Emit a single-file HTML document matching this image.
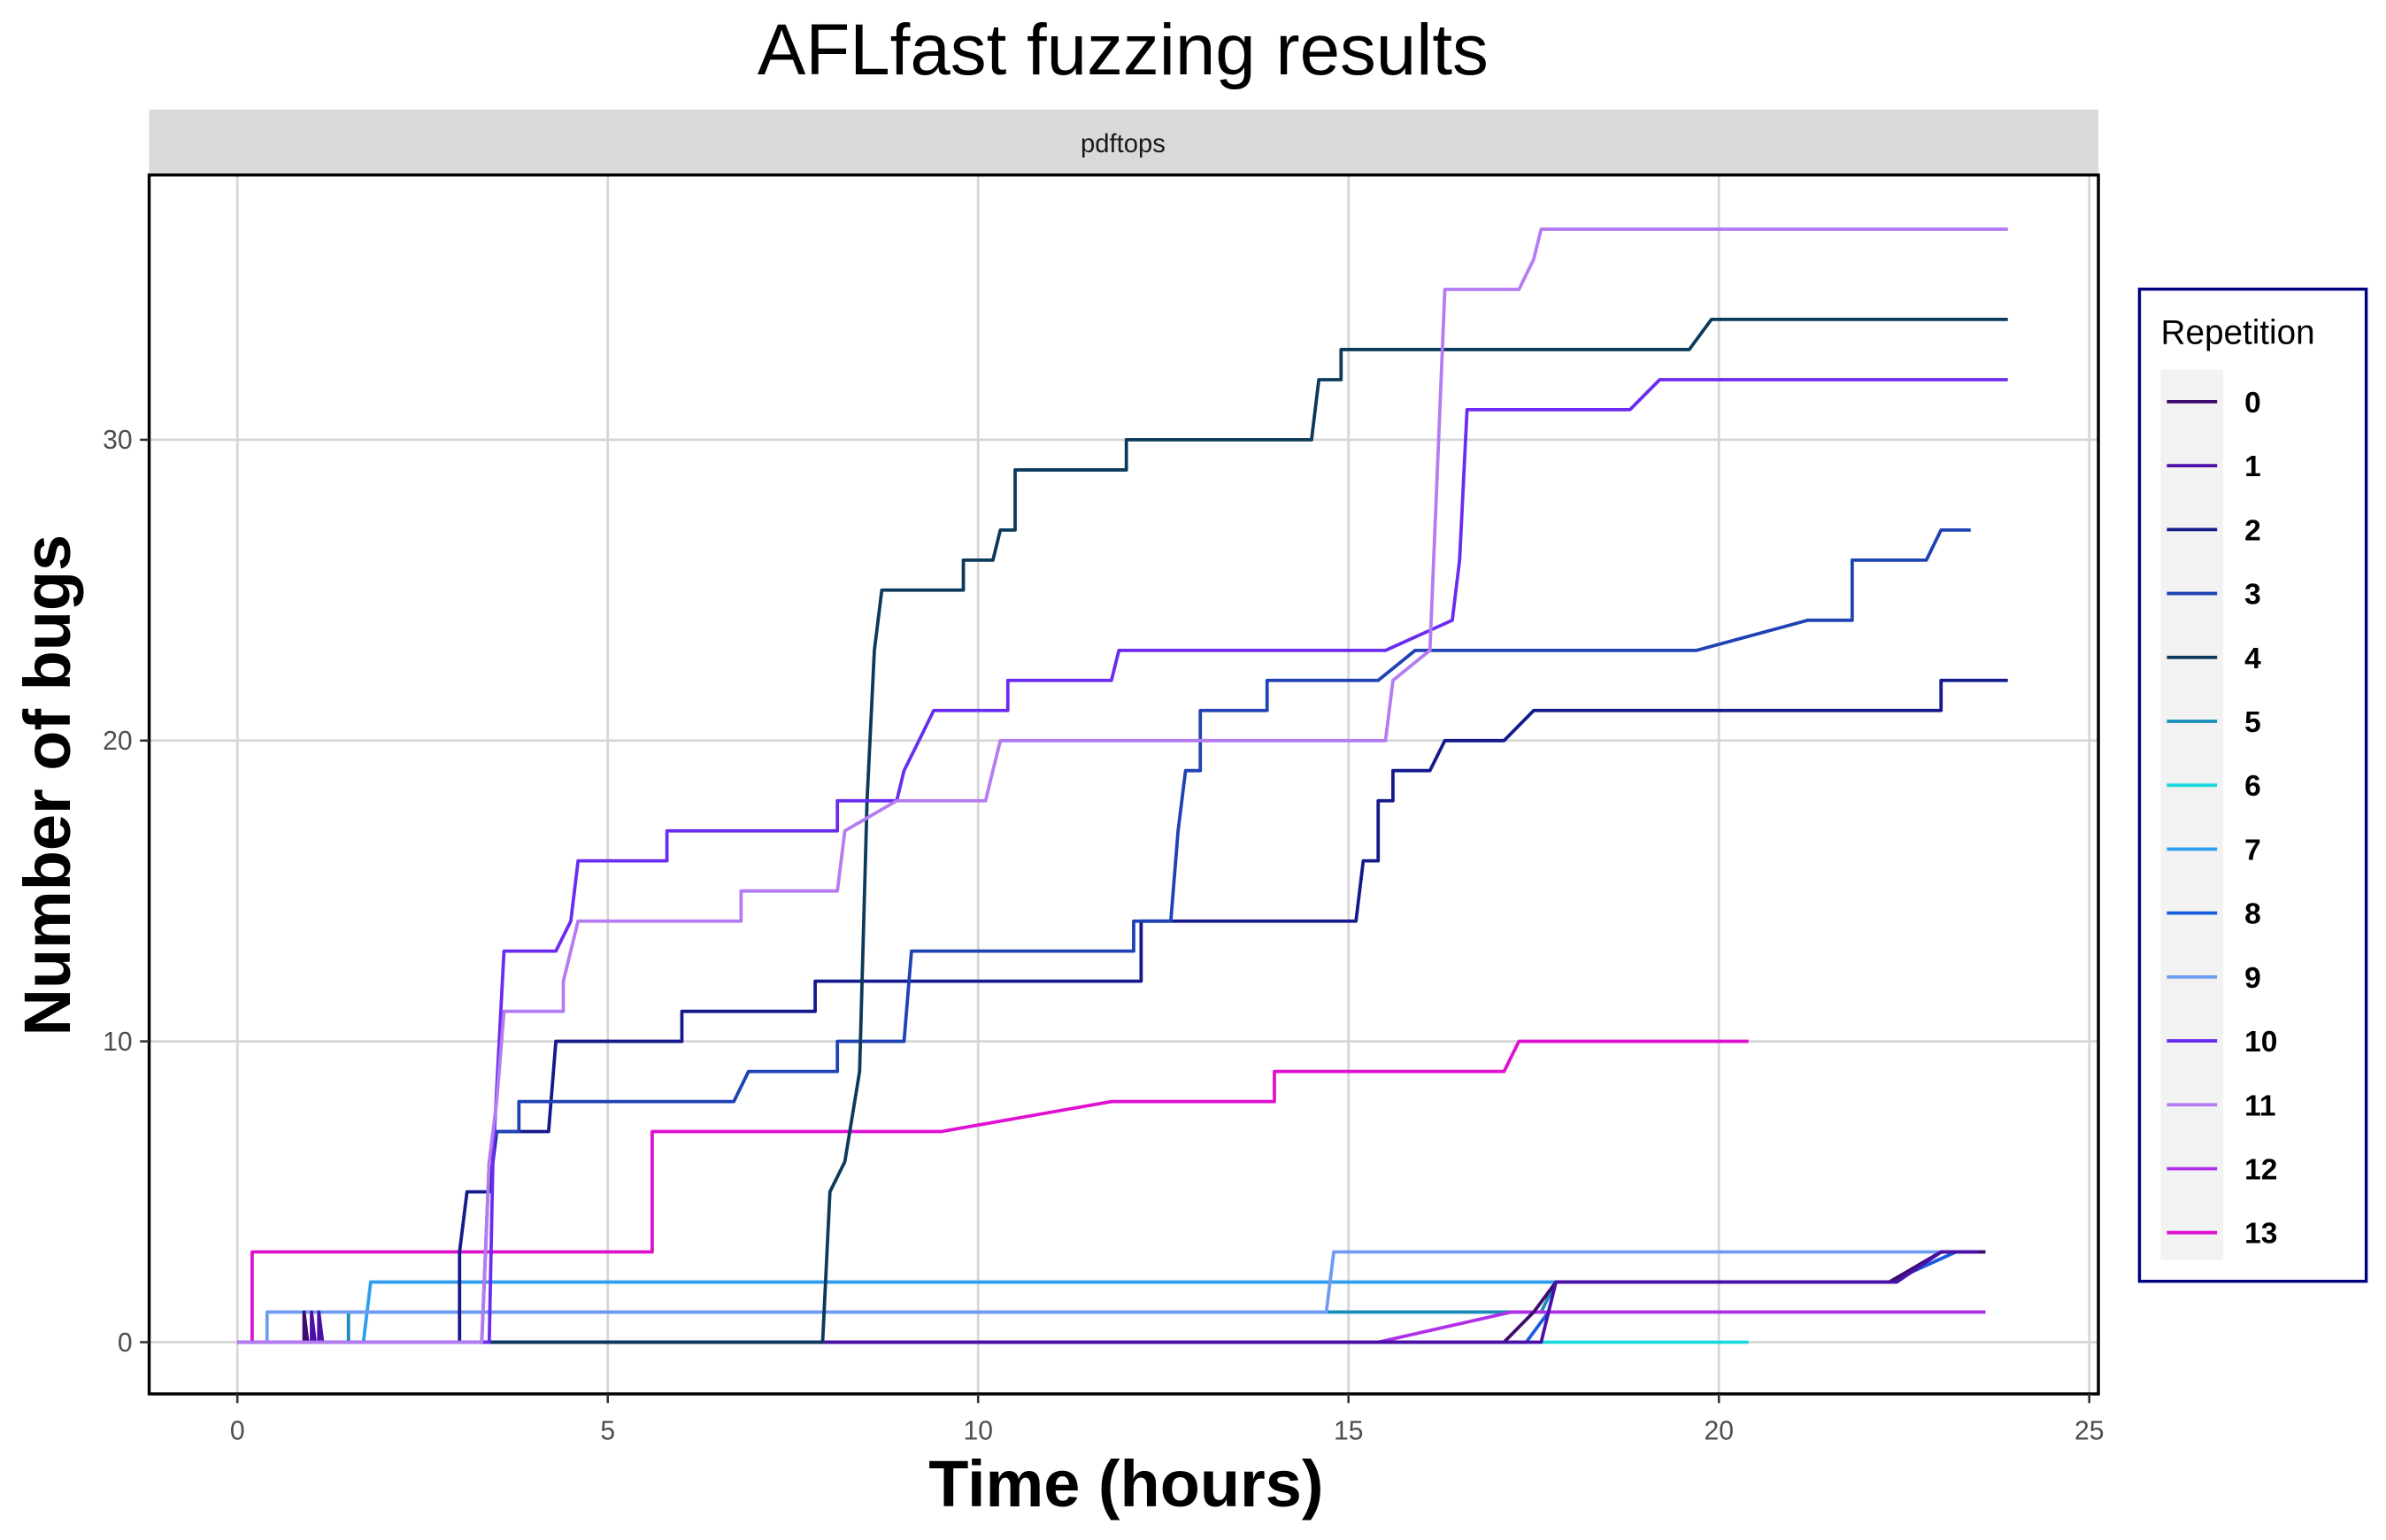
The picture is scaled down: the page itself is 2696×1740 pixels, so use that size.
<!DOCTYPE html>
<html><head><meta charset="utf-8"><style>
html,body{margin:0;padding:0;background:#fff;}
svg{display:block;font-family:"Liberation Sans",sans-serif;}
</style></head><body>
<svg id="chart" width="2696" height="1740" viewBox="0 0 1568 1012" xmlns="http://www.w3.org/2000/svg">
<rect x="0" y="0" width="1568" height="1012" fill="#fff"/>
<text x="738" y="49" font-size="47.5" text-anchor="middle" fill="#000">AFLfast fuzzing results</text>
<rect x="98" y="72" width="1281" height="43" fill="#d9d9d9"/>
<text x="738" y="100" font-size="17" text-anchor="middle" fill="#1a1a1a">pdftops</text>
<g id="grid"></g>
<g id="series"></g>
<rect x="98" y="115" width="1281" height="801" fill="none" stroke="#000" stroke-width="2"/>
<g id="axes"></g>
<text x="740" y="990" font-size="43" font-weight="bold" text-anchor="middle">Time (hours)</text>
<text transform="translate(46,516) rotate(-90)" font-size="43" font-weight="bold" text-anchor="middle">Number of bugs</text>
<g id="legend"></g>
</svg>
<script>
const xTicks=[0,5,10,15,20,25];
const yTicks=[0,10,20,30];
const seriesNames=["0","1","2","3","4","5","6","7","8","9","10","11","12","13"];
const seriesColors=["#3d0a6e","#4a10a8","#141a8c","#1f42b4","#0c3a5c","#1a8cb8","#1ad8dc","#2e9ff0","#1a5ce0","#6f9bf0","#6a2cf0","#b47cf0","#b030e8","#e010d0"];
const s0=[[0,0],[0.9,0],[0.9,1],[0.95,0],[17.1,0],[17.5,1],[17.8,2],[22.3,2],[23,3],[23.6,3]];
const s1=[[0,0],[1.0,0],[1.0,1],[1.05,0],[1.1,0],[1.1,1],[1.15,0],[17.6,0],[17.8,2],[22.4,2],[23,3],[23.5,3]];
const s2=[[0,0],[3.0,0],[3.0,3],[3.1,5],[3.4,5],[3.5,7],[4.2,7],[4.3,10],[6.0,10],[6.0,11],[7.8,11],[7.8,12],[12.2,12],[12.2,14],[15.1,14],[15.2,16],[15.4,16],[15.4,18],[15.6,18],[15.6,19],[16.1,19],[16.3,20],[17.1,20],[17.5,21],[23.0,21],[23.0,22],[23.9,22]];
const s3=[[0,0],[3.3,0],[3.4,6],[3.5,7],[3.8,7],[3.8,8],[6.7,8],[6.9,9],[8.1,9],[8.1,10],[9.0,10],[9.1,13],[12.1,13],[12.1,14],[12.6,14],[12.7,17],[12.8,19],[13.0,19],[13.0,21],[13.9,21],[13.9,22],[15.4,22],[15.9,23],[19.7,23],[21.2,24],[21.8,24],[21.8,26],[22.8,26],[23.0,27],[23.4,27]];
const s4=[[0,0],[7.9,0],[8.0,5],[8.2,6],[8.4,9],[8.5,18],[8.6,23],[8.7,25],[9.8,25],[9.8,26],[10.2,26],[10.3,27],[10.5,27],[10.5,29],[12.0,29],[12.0,30],[14.5,30],[14.6,32],[14.9,32],[14.9,33],[19.6,33],[19.9,34],[23.9,34]];
const s5=[[0,0],[1.5,0],[1.5,1],[17.6,1],[17.8,2],[22.4,2],[23,3],[23.6,3]];
const s6=[[0,0],[20.4,0]];
const s7=[[0,0],[1.7,0],[1.8,2],[22.3,2],[23,3],[23.6,3]];
const s8=[[0,0],[17.4,0],[17.7,1],[17.8,2],[22.3,2],[23.2,3],[23.6,3]];
const s9=[[0,0],[0.4,0],[0.4,1],[14.7,1],[14.8,3],[23.6,3]];
const s10=[[0,0],[3.4,0],[3.45,6],[3.6,13],[4.3,13],[4.5,14],[4.6,16],[5.8,16],[5.8,17],[8.1,17],[8.1,18],[8.9,18],[9.0,19],[9.2,20],[9.4,21],[10.4,21],[10.4,22],[11.8,22],[11.9,23],[15.5,23],[16.4,24],[16.5,26],[16.6,31],[18.8,31],[19.2,32],[23.9,32]];
const s11=[[0,0],[3.3,0],[3.4,6],[3.5,8],[3.6,11],[4.4,11],[4.4,12],[4.6,14],[6.8,14],[6.8,15],[8.1,15],[8.2,17],[8.9,18],[10.1,18],[10.2,19],[10.3,20],[15.5,20],[15.6,22],[16.1,23],[16.3,35],[17.3,35],[17.5,36],[17.6,37],[23.9,37]];
const s12=[[0,0],[15.4,0],[17.2,1],[23.6,1]];
const s13=[[0,0],[0.2,0],[0.2,3],[5.6,3],[5.6,7],[9.5,7],[11.8,8],[14.0,8],[14.0,9],[17.1,9],[17.3,10],[20.4,10]];
const seriesData=[s0,s1,s2,s3,s4,s5,s6,s7,s8,s9,s10,s11,s12,s13];
const drawOrder=[6,5,8,7,9,12,0,1,13,2,3,4,10,11];

const NS="http://www.w3.org/2000/svg";
const X0=156,X25=1373,Y0=882,Y30=289;
function xs(v){return X0+(X25-X0)*v/25;}
function ys(v){return Y0+(Y30-Y0)*v/30;}
function mk(tag,attrs,parent){const e=document.createElementNS(NS,tag);for(const k in attrs)e.setAttribute(k,attrs[k]);parent.appendChild(e);return e;}
const grid=document.getElementById('grid'),axes=document.getElementById('axes'),ser=document.getElementById('series'),leg=document.getElementById('legend');
xTicks.forEach(t=>{
  const gl=mk('line',{x1:xs(t),x2:xs(t),y1:115,y2:916,stroke:'#d6d6d6','stroke-width':1.6},grid);
  
  
  const tk=mk('line',{x1:xs(t),x2:xs(t),y1:916,y2:922,stroke:'#333','stroke-width':1.5},axes);
  
  
  const tl=mk('text',{x:xs(t),y:946,'font-size':17.5,'text-anchor':'middle',fill:'#4d4d4d'},axes);
  
  
  tl.textContent=t;
});
yTicks.forEach(t=>{
  const gl=mk('line',{x1:98,x2:1379,y1:ys(t),y2:ys(t),stroke:'#d6d6d6','stroke-width':1.6},grid);
  
  
  const tk=mk('line',{x1:92,x2:98,y1:ys(t),y2:ys(t),stroke:'#333','stroke-width':1.5},axes);
  
  
  const tl=mk('text',{x:87,y:ys(t)+6,'font-size':17.5,'text-anchor':'end',fill:'#4d4d4d'},axes);
  
  
  tl.textContent=t;
});
drawOrder.forEach(i=>{
  const pts=seriesData[i].map(p=>xs(p[0]).toFixed(1)+','+ys(p[1]).toFixed(1)).join(' ');
  const pl=mk('polyline',{points:pts,fill:'none',stroke:seriesColors[i],'stroke-width':2.2,'stroke-linejoin':'round'},ser);
  
  
});
const lb=mk('rect',{x:1406,y:190,width:149,height:652,fill:'#fff',stroke:'#000080','stroke-width':2},leg);


const lt=mk('text',{x:1420,y:226,'font-size':22.5,fill:'#000'},leg);


lt.textContent='Repetition';
const kb=mk('rect',{x:1420,y:243,width:41,height:585,fill:'#f2f2f2'},leg);


seriesNames.forEach((n,i)=>{
  const y=264+42*i;
  const g=mk('g',{},leg);
  
  
  mk('line',{x1:1424,x2:1457,y1:y,y2:y,stroke:seriesColors[i],'stroke-width':2.2},g);
  const t=mk('text',{x:1475,y:y+7,'font-size':19.5,'font-weight':'bold',fill:'#000'},g);
  t.textContent=n;
});
</script>
</body></html>
